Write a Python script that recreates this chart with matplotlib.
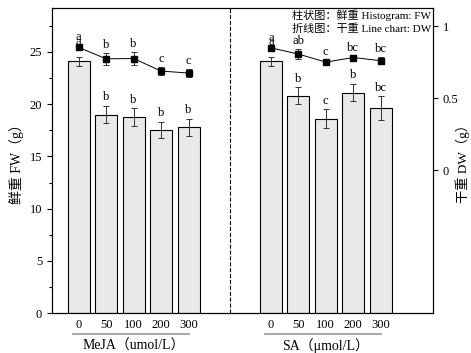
import numpy as np
import matplotlib.pyplot as plt
from matplotlib.ticker import MultipleLocator
import matplotlib.transforms as mtransforms

plt.rcParams['font.family'] = ['Liberation Serif', 'Noto Sans CJK SC']
plt.rcParams['axes.unicode_minus'] = False

# treatment concentrations
doses = ['0', '50', '100', '200', '300']
groups = ['MeJA（umol/L）', 'SA（μmol/L）']

# fresh weight (bars, left axis)
fw_meja = [24.1, 19.0, 18.75, 17.5, 17.8]
fw_meja_err = [0.43, 0.83, 0.86, 0.78, 0.81]
fw_sa = [24.1, 20.8, 18.6, 21.1, 19.6]
fw_sa_err = [0.41, 0.81, 0.91, 0.81, 1.15]
fw_meja_sig = ['a', 'b', 'b', 'b', 'b']
fw_sa_sig = ['a', 'b', 'c', 'b', 'bc']

# dry weight (line, right axis)
dw_meja = [0.852, 0.773, 0.775, 0.688, 0.674]
dw_meja_err = [0.015, 0.04, 0.043, 0.03, 0.025]
dw_sa = [0.849, 0.806, 0.75, 0.782, 0.76]
dw_sa_err = [0.015, 0.035, 0.012, 0.012, 0.025]
dw_meja_sig = ['a', 'b', 'b', 'c', 'c']
dw_sa_sig = ['a', 'ab', 'c', 'bc', 'bc']

x1 = np.arange(5)
x2 = np.arange(5) + 7

fig = plt.figure(figsize=(4.71, 3.53), dpi=100)
ax = fig.add_axes([0.110, 0.113, 0.809, 0.864])

bar_kw = dict(width=0.8, color='#e9e9e9', edgecolor='black', linewidth=0.8, zorder=2)
err_kw = dict(fmt='none', ecolor='#333333', elinewidth=0.7, capsize=2.5, capthick=0.7, zorder=3)
for xs, ys, es, sig in [(x1, fw_meja, fw_meja_err, fw_meja_sig), (x2, fw_sa, fw_sa_err, fw_sa_sig)]:
    ax.bar(xs, ys, **bar_kw)
    ax.errorbar(xs, ys, yerr=es, **err_kw)
    for i, (xi, yi, ei, s) in enumerate(zip(xs, ys, es, sig)):
        # control letter sits higher, tucked under the dry-weight marker
        off = 6.5 if i == 0 else 2
        ax.annotate(s, (xi, yi + ei), xytext=(0, off), textcoords='offset points',
                    ha='center', va='bottom', fontsize=9)

ax.axvline(5.5, color='black', linestyle='--', linewidth=0.8)
ax.set_xlim(-0.98, 12.9)
ax.set_ylim(0, 29.2)
ax.yaxis.set_major_locator(MultipleLocator(5))
ax.yaxis.set_minor_locator(MultipleLocator(2.5))
ax.tick_params(axis='y', direction='out', length=3.5, width=0.8, labelsize=9)
ax.tick_params(axis='y', which='minor', direction='out', length=2, width=0.8)
ax.set_xticks(np.concatenate([x1, x2]))
ax.set_xticklabels(doses + doses, fontsize=9)
ax.tick_params(axis='x', length=0, pad=4)
ax.set_ylabel('鲜重 FW（g）', fontsize=10, labelpad=4)
for sp in ax.spines.values():
    sp.set_linewidth(0.8)

# dry weight on secondary axis
ax2 = ax.twinx()
for xs, ys, es, sig in [(x1, dw_meja, dw_meja_err, dw_meja_sig), (x2, dw_sa, dw_sa_err, dw_sa_sig)]:
    ax2.errorbar(xs, ys, yerr=es, fmt='-s', color='black', ms=5, lw=0.7,
                 ecolor='#333333', elinewidth=0.7, capsize=2.5, capthick=0.7, zorder=4)
    for xi, yi, ei, s in zip(xs, ys, es, sig):
        ax2.annotate(s, (xi, yi + ei), xytext=(0, 1.5), textcoords='offset points',
                     ha='center', va='bottom', fontsize=9)
ax2.set_ylim(-0.993, 1.125)
ax2.set_yticks([0, 0.5, 1])
ax2.set_yticklabels(['0', '0.5', '1'])
ax2.tick_params(axis='y', direction='out', length=3.5, width=0.8, labelsize=9)
ax2.set_ylabel('干重 DW（g）', fontsize=9.5, rotation=90, labelpad=-2)
for sp in ax2.spines.values():
    sp.set_linewidth(0.8)

ax2.text(0.995, 0.995, '柱状图：鲜重 Histogram: FW\n折线图：干重 Line chart: DW',
         transform=ax2.transAxes, ha='right', va='top', fontsize=8, linespacing=1.3)

# group labels below the dose ticks
trans = mtransforms.blended_transform_factory(ax.transData, ax.transAxes)
for xs, name in [(x1, groups[0]), (x2, groups[1])]:
    ax.plot([xs[0] - 0.2, xs[-1]], [-0.069, -0.069], transform=trans, color='#999999',
            lw=1.2, clip_on=False)
    ax.text((xs[0] + xs[-1]) / 2, -0.107, name, transform=trans, ha='center', va='center',
            fontsize=10)

fig.savefig('out.png', dpi=100)
